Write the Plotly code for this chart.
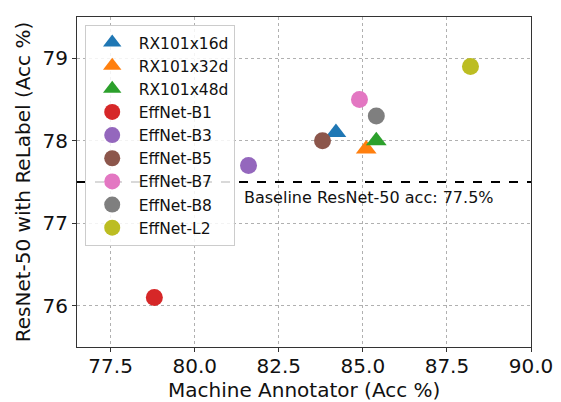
import plotly.graph_objects as go

names = ["RX101x16d", "RX101x32d", "RX101x48d", "EffNet-B1", "EffNet-B3",
         "EffNet-B5", "EffNet-B7", "EffNet-B8", "EffNet-L2"]
annotator_acc = [84.2, 85.1, 85.4, 78.8, 81.6, 83.8, 84.9, 85.4, 88.2]
relabel_acc = [78.1, 77.9, 78.0, 76.1, 77.7, 78.0, 78.5, 78.3, 78.9]
symbols = ["triangle-up", "triangle-up", "triangle-up", "circle", "circle",
           "circle", "circle", "circle", "circle"]
colors = ["#1f77b4", "#ff7f0e", "#2ca02c", "#d62728", "#9467bd",
          "#8c564b", "#e377c2", "#7f7f7f", "#bcbd22"]
baseline = 77.5
baseline_label = "Baseline ResNet-50 acc: 77.5%"
x_title = "Machine Annotator (Acc %)"
y_title = "ResNet-50 with ReLabel (Acc %)"
x_ticks = [77.5, 80.0, 82.5, 85.0, 87.5, 90.0]
y_ticks = [76, 77, 78, 79]

font = "DejaVu Sans"
fig = go.Figure()
for n, xv, yv, s, c in zip(names, annotator_acc, relabel_acc, symbols, colors):
    fig.add_trace(go.Scatter(
        x=[xv], y=[yv], mode="markers", name=n, legendgroup=n,
        marker=dict(symbol=s, color=c, size=17 if s == "circle" else 18,
                    line=dict(width=0)),
    ))

fig.add_shape(type="line", xref="paper", x0=0, x1=1, yref="y",
              y0=baseline, y1=baseline,
              line=dict(color="black", width=2, dash="dash"))
fig.add_annotation(x=81.4, y=baseline, yshift=-15, text=baseline_label,
                   showarrow=False, xanchor="left", yanchor="middle",
                   font=dict(family=font, size=16, color="#111"))
# x-axis title placed as an annotation for precise vertical placement
fig.add_annotation(x=0.5, xref="paper", y=-0.129, yref="paper", text=x_title,
                   showarrow=False, xanchor="center", yanchor="middle",
                   font=dict(family=font, size=20, color="#111"))

axis_common = dict(
    showline=True, linecolor="#333", linewidth=1, mirror=True,
    ticks="outside", ticklen=4, tickcolor="#333", automargin=True,
    showgrid=True, gridcolor="#b0b0b0", griddash="3px,3px", gridwidth=1,
    zeroline=False, tickfont=dict(family=font, size=20, color="#111"),
)
fig.update_xaxes(range=[76.5, 90.0], tickvals=x_ticks,
                 ticktext=[f"{v:.1f}" for v in x_ticks],
                 ticklabelstandoff=-3,
                 **axis_common)
fig.update_yaxes(range=[75.5, 79.5], tickvals=y_ticks,
                 ticktext=[str(v) for v in y_ticks],
                 title=dict(text=y_title,
                            font=dict(family=font, size=20, color="#111"),
                            standoff=6),
                 **axis_common)

# page body has an 8px margin; compensate so the plot area lands where the reference has it
fig.update_layout(
    width=561, height=402,
    margin=dict(l=69, r=38, t=9, b=63, autoexpand=False),
    paper_bgcolor="white", plot_bgcolor="white",
    font=dict(family=font),
    showlegend=True,
    legend=dict(x=0.017, y=0.976, xanchor="left", yanchor="top",
                bgcolor="rgba(255,255,255,0.85)", bordercolor="#cccccc",
                borderwidth=1, font=dict(family=font, size=15.5, color="#111"),
                tracegroupgap=0, itemwidth=43),
)
fig.write_html("out.html")
